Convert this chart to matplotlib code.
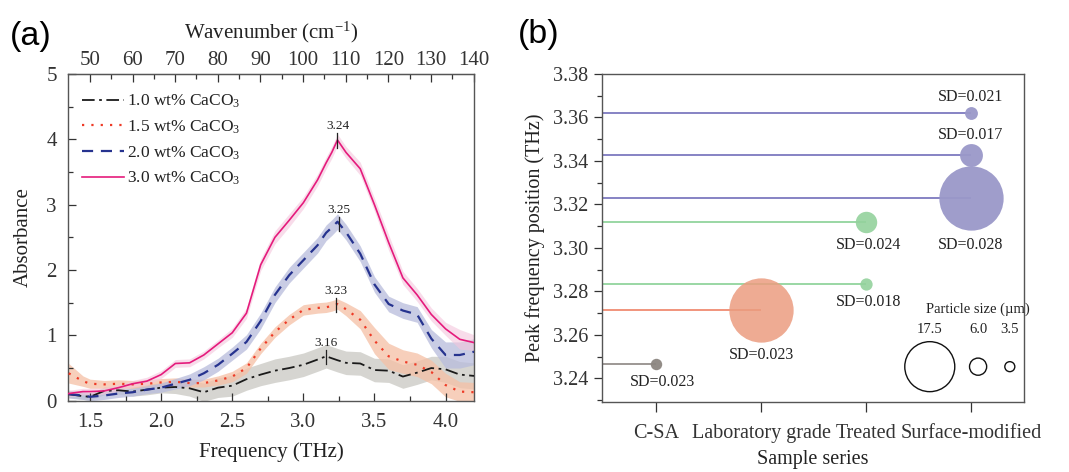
import numpy as np
import matplotlib
matplotlib.use("Agg")
import matplotlib.pyplot as plt
from matplotlib.ticker import MultipleLocator, FormatStrFormatter, FixedLocator

plt.rcParams['font.family'] = ['Liberation Serif', 'DejaVu Serif']
plt.rcParams['mathtext.fontset'] = 'custom'
plt.rcParams['mathtext.rm'] = 'Liberation Serif'
plt.rcParams['mathtext.it'] = 'Liberation Serif:italic'

# ---------------- Panel (a) data ----------------
freq = [1.35, 1.45, 1.5, 1.6, 1.7, 1.8, 1.9, 2.0, 2.1, 2.2, 2.3, 2.4, 2.5, 2.6, 2.7, 2.8,
        2.9, 3.0, 3.1, 3.16, 3.2, 3.24, 3.3, 3.4, 3.5, 3.6, 3.7, 3.8, 3.9, 4.0, 4.1, 4.2]
abs_10 = [0.10, 0.07, 0.06, 0.15, 0.16, 0.14, 0.17, 0.20, 0.21, 0.19, 0.13, 0.20, 0.23, 0.33,
          0.40, 0.46, 0.50, 0.55, 0.63, 0.68, 0.65, 0.62, 0.58, 0.57, 0.47, 0.46, 0.37, 0.43,
          0.50, 0.48, 0.40, 0.38]
abs_15 = [0.42, 0.30, 0.26, 0.25, 0.26, 0.25, 0.26, 0.28, 0.29, 0.27, 0.27, 0.31, 0.37, 0.50,
          0.80, 1.05, 1.24, 1.39, 1.42, 1.43, 1.45, 1.48, 1.40, 1.24, 0.92, 0.68, 0.60, 0.55,
          0.44, 0.24, 0.14, 0.13]
abs_20 = [0.10, 0.08, 0.06, 0.08, 0.11, 0.13, 0.17, 0.20, 0.26, 0.32, 0.42, 0.55, 0.72, 0.90,
          1.22, 1.62, 1.92, 2.15, 2.38, 2.57, 2.65, 2.74, 2.58, 2.25, 1.78, 1.48, 1.38, 1.32,
          0.95, 0.70, 0.70, 0.75]
abs_30 = [0.11, 0.14, 0.14, 0.15, 0.20, 0.26, 0.30, 0.40, 0.57, 0.58, 0.70, 0.87, 1.04, 1.34,
          2.08, 2.50, 2.76, 3.03, 3.38, 3.64, 3.80, 3.99, 3.80, 3.55, 3.00, 2.42, 1.88, 1.62,
          1.32, 1.10, 0.94, 0.89]
err_10 = [0.05, 0.05, 0.05, 0.06, 0.06, 0.07, 0.08, 0.08, 0.10, 0.12, 0.14, 0.15, 0.16, 0.17,
          0.17, 0.18, 0.18, 0.18, 0.18, 0.18, 0.18, 0.18, 0.18, 0.18, 0.18, 0.18, 0.18, 0.18,
          0.18, 0.20, 0.20, 0.20]
err_15 = [0.15, 0.08, 0.07, 0.06, 0.06, 0.06, 0.06, 0.06, 0.06, 0.06, 0.06, 0.07, 0.08, 0.08,
          0.08, 0.08, 0.08, 0.08, 0.08, 0.08, 0.08, 0.08, 0.10, 0.14, 0.20, 0.20, 0.18, 0.18,
          0.18, 0.18, 0.15, 0.15]
err_20 = [0.06, 0.06, 0.06, 0.06, 0.06, 0.06, 0.06, 0.07, 0.08, 0.09, 0.10, 0.10, 0.10, 0.11,
          0.12, 0.12, 0.12, 0.12, 0.12, 0.12, 0.12, 0.12, 0.12, 0.12, 0.12, 0.12, 0.12, 0.12,
          0.14, 0.20, 0.20, 0.20]
err_30 = [0.05, 0.05, 0.05, 0.05, 0.05, 0.05, 0.06, 0.06, 0.06, 0.06, 0.06, 0.06, 0.07, 0.08,
          0.09, 0.10, 0.10, 0.09, 0.09, 0.09, 0.09, 0.09, 0.09, 0.10, 0.10, 0.12, 0.10, 0.10,
          0.10, 0.10, 0.15, 0.12]
series_labels = ['1.0 wt% CaCO$_{\\mathrm{3}}$', '1.5 wt% CaCO$_{\\mathrm{3}}$',
                 '2.0 wt% CaCO$_{\\mathrm{3}}$', '3.0 wt% CaCO$_{\\mathrm{3}}$']
peak_freq = [3.16, 3.23, 3.25, 3.24]
peak_text = ['3.16', '3.23', '3.25', '3.24']
wavenumber_ticks = [50, 60, 70, 80, 90, 100, 110, 120, 130, 140]

# ---------------- Panel (b) data ----------------
categories = ['C-SA', 'Laboratory grade', 'Treated', 'Surface-modified']
pt_cat = [0, 1, 2, 2, 3, 3, 3]
pt_peak = [3.2465, 3.2714, 3.2833, 3.3121, 3.3622, 3.3428, 3.3228]
pt_size = [4.0, 22.5, 4.3, 7.5, 4.5, 8.0, 22.5]      # particle size (um)
pt_sd = ['SD=0.023', 'SD=0.023', 'SD=0.018', 'SD=0.024', 'SD=0.021', 'SD=0.017', 'SD=0.028']
legend_sizes = [17.5, 6.0, 3.5]
legend_size_text = ['17.5', '6.0', '3.5']

# ---------------- figure ----------------
fig = plt.figure(figsize=(10.69, 4.72), dpi=100)
axa = fig.add_axes([0.0636, 0.151, 0.3798, 0.6922])
axb = fig.add_axes([0.5629, 0.149, 0.3950, 0.6942])

x = np.array(freq)
ys = [np.array(abs_10), np.array(abs_15), np.array(abs_20), np.array(abs_30)]
es = [np.array(err_10), np.array(err_15), np.array(err_20), np.array(err_30)]
line_colors = ['#1a1a1a', '#ee3a26', '#26338f', '#e51b7c']
band_colors = ['#c9c8c2', '#f5c0a5', '#b8bcdc', '#f4c6dc']
band_alpha = [0.75, 0.75, 0.75, 0.6]
styles = [(0, (7, 2.5, 1.5, 2.5)), (0, (1, 3.2)), (0, (5, 3.5)), '-']
lws = [1.3, 1.6, 1.6, 1.2]

for y, e, c, bc, ba in zip(ys, es, line_colors, band_colors, band_alpha):
    axa.fill_between(x, y - e, y + e, color=bc, alpha=ba, lw=0, zorder=1)
handles = []
for y, c, ls, lw, lab in zip(ys, line_colors, styles, lws, series_labels):
    h, = axa.plot(x, y, color=c, ls=ls, lw=lw, label=lab, zorder=3)
    handles.append(h)

for pf, pt, y in zip(peak_freq, peak_text, ys):
    py = np.interp(pf, x, y)
    axa.plot([pf, pf], [py - 0.12, py + 0.1], color='#222222', lw=0.9, zorder=4)
    axa.text(pf, py + 0.21, pt, ha='center', va='center', fontsize=9.5, color='#222222')

axa.set_xlim(1.345, 4.2)
axa.set_ylim(0, 5)
axa.xaxis.set_major_locator(MultipleLocator(0.5))
axa.xaxis.set_minor_locator(MultipleLocator(0.25))
axa.xaxis.set_major_formatter(FormatStrFormatter('%.1f'))
axa.yaxis.set_major_locator(MultipleLocator(1))
axa.yaxis.set_minor_locator(MultipleLocator(0.5))
axa.tick_params(axis='both', which='both', direction='in', labelsize=15, colors='#333333')
axa.tick_params(axis='both', which='major', length=6, width=0.9)
axa.tick_params(axis='both', which='minor', length=3.5, width=0.9)
axa.tick_params(axis='x', pad=9)
axa.tick_params(axis='y', pad=8)
axa.set_xlabel('Frequency (THz)', fontsize=15, labelpad=7, color='#222222')
axa.set_ylabel('Absorbance', fontsize=15, labelpad=10, color='#222222')
for s in axa.spines.values():
    s.set_color('#555555')
    s.set_linewidth(1.0)

k_thz = 33.356
sec = axa.secondary_xaxis('top', functions=(lambda f: f * k_thz, lambda w: w / k_thz))
sec.xaxis.set_major_locator(FixedLocator(wavenumber_ticks))
sec.xaxis.set_minor_locator(FixedLocator([w + 5 for w in wavenumber_ticks[:-1]]))
sec.tick_params(axis='x', which='both', direction='in', labelsize=15, colors='#333333')
sec.tick_params(axis='x', which='major', length=6, width=0.9, pad=3)
sec.tick_params(axis='x', which='minor', length=3.5, width=0.9)
sec.set_xlabel('Wavenumber (cm$^{\\mathrm{-1}}$)', fontsize=15, labelpad=9, color='#222222')
sec.spines['top'].set_color('#555555')

leg = axa.legend(handles=handles, loc='upper left', bbox_to_anchor=(0.0, 0.985),
                 frameon=False, fontsize=12.5, handlelength=2.4, handletextpad=0.2,
                 labelspacing=0.48, borderaxespad=0.4)
for t in leg.get_texts():
    t.set_color('#222222')

fig.text(0.009, 0.922, '(a)', fontsize=24.5, family='Liberation Sans', va='center', ha='left')
fig.text(0.484, 0.927, '(b)', fontsize=24.5, family='Liberation Sans', va='center', ha='left')

# ---------------- Panel (b) ----------------
cat_fill = ['#8c8681', '#eb9c80', '#94d29d', '#9a98c9']
cat_line = ['#8a8480', '#ee7f62', '#86d092', '#6e6bb8']
cat_alpha = [0.95, 0.85, 0.9, 0.95]
px_per_um = 50.0 / 17.5
pt_per_px = 0.72

xlo = -0.52
for c, p, sz in zip(pt_cat, pt_peak, pt_size):
    axb.plot([xlo, c], [p, p], color=cat_line[c], lw=1.3, alpha=0.9, zorder=2, solid_capstyle='butt')
    d_pt = sz * px_per_um * pt_per_px
    axb.scatter([c], [p], s=d_pt ** 2, color=cat_fill[c], alpha=cat_alpha[c], lw=0, zorder=3)

sd_pos = [(0.06, 3.2385), (1.0, 3.2508), (2.02, 3.2753), (2.02, 3.3014),
          (2.99, 3.3696), (2.99, 3.3520), (2.99, 3.3014)]
for (sx, sy), t in zip(sd_pos, pt_sd):
    axb.text(sx, sy, t, ha='center', va='center', fontsize=11.5, color='#222222', zorder=5)

leg_x = [2.603, 3.063, 3.365]
leg_y = 3.2454
for lx, ls_, lt in zip(leg_x, legend_sizes, legend_size_text):
    d_pt = ls_ * px_per_um * pt_per_px
    axb.scatter([lx], [leg_y], s=d_pt ** 2, facecolors='none', edgecolors='#111111',
                linewidths=1.0, zorder=4)
    axb.text(lx, 3.2623, lt, ha='center', va='center', fontsize=10.5, color='#222222')
axb.text(3.06, 3.2718, 'Particle size (\u00b5m)', ha='center', va='center',
         fontsize=10.5, color='#222222')

axb.set_xlim(xlo, 3.5)
axb.set_ylim(3.2293, 3.38)
axb.xaxis.set_major_locator(FixedLocator([0, 1, 2, 3]))
axb.set_xticklabels(categories)
axb.yaxis.set_major_locator(MultipleLocator(0.02))
axb.yaxis.set_minor_locator(MultipleLocator(0.01))
axb.yaxis.set_major_formatter(FormatStrFormatter('%.2f'))
axb.tick_params(axis='both', which='both', direction='out', colors='#333333')
axb.tick_params(axis='y', which='major', length=6, width=0.9, labelsize=14.5)
axb.tick_params(axis='y', which='minor', length=3.5, width=0.9)
axb.tick_params(axis='x', which='major', length=7, width=0.9, labelsize=14.5, pad=9)
axb.set_xlabel('Sample series', fontsize=14.5, labelpad=5, color='#222222')
axb.set_ylabel('Peak frequency position (THz)', fontsize=14.5, labelpad=6, color='#222222')
for s in axb.spines.values():
    s.set_color('#555555')
    s.set_linewidth(1.0)

fig.savefig('out.png', dpi=100)
